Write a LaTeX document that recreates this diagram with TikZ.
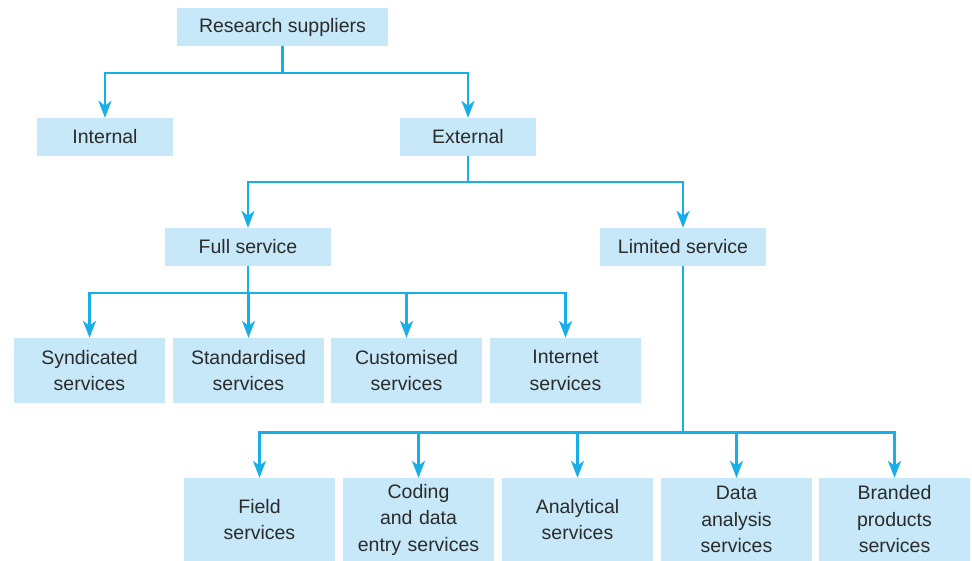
\documentclass[tikz,border=0pt]{standalone}
\usepackage{fontspec}
\setmainfont{Liberation Sans}
\usetikzlibrary{arrows.meta}
\definecolor{boxfill}{HTML}{C6E8F8}
\definecolor{linec}{HTML}{18AEEA}
\definecolor{txt}{HTML}{2B2B2B}
\begin{document}
\begin{tikzpicture}[x=1pt,y=-1pt,
  box/.style={draw=none,fill=boxfill,text=txt,align=center,inner sep=0pt,
    font=\fontsize{19.5}{26.5}\selectfont},
  small/.style={box,minimum width=136pt,minimum height=38pt},
  mid/.style={box,minimum width=166pt,minimum height=38pt},
  r3/.style={box,minimum width=151pt,minimum height=65pt,text width=150pt},
  r4/.style={box,minimum width=151pt,minimum height=83pt,text width=150pt},
  conn/.style={draw=linec,line width=2.6pt},
  arr/.style={conn,-{Stealth[length=17pt,width=13pt,inset=5pt]}}]
\useasboundingbox (0,0) rectangle (972,561);
\node[box,minimum width=211pt,minimum height=38pt] (rs) at (282.5,27) {Research suppliers};
\node[small] (int) at (105,137) {Internal};
\node[small] (ext) at (468,137) {External};
\node[mid] (full) at (248,247) {Full service};
\node[mid] (lim) at (683,247) {Limited service};
\node[r3] (syn) at (89.5,370.5) {Syndicated\\services};
\node[r3] (std) at (248.5,370.5) {Standardised\\services};
\node[r3] (cus) at (406.5,370.5) {Customised\\services};
\node[r3] (inet) at (565.5,370.5) {Internet\\services};
\node[r4] (fld) at (259.5,519.5) {Field\\services};
\node[r4] (cod) at (418.5,519.5) {Coding\\and data\\entry services};
\node[r4] (ana) at (577.5,519.5) {Analytical\\services};
\node[r4] (dat) at (736.5,519.5) {Data\\analysis\\services};
\node[r4] (brd) at (894.5,519.5) {Branded\\products\\services};
% level 1
\draw[conn] (rs.south) -- ++(0,27) coordinate (j1);
\draw[arr] (j1) -| (int.north);
\draw[arr] (j1) -| (ext.north);
% level 2
\draw[conn] (ext.south) -- ++(0,26) coordinate (j2);
\draw[arr] (j2) -| (full.north);
\draw[arr] (j2) -| (lim.north);
% level 3
\draw[conn] (full.south) -- ++(0,27) coordinate (j3);
\foreach \n in {syn,std,cus,inet} \draw[arr] (j3) -| (\n.north);
% level 4
\draw[conn] (lim.south) -- ++(0,166) coordinate (j4);
\foreach \n in {fld,cod,ana,dat,brd} \draw[arr] (j4) -| (\n.north);
\end{tikzpicture}
\end{document}
